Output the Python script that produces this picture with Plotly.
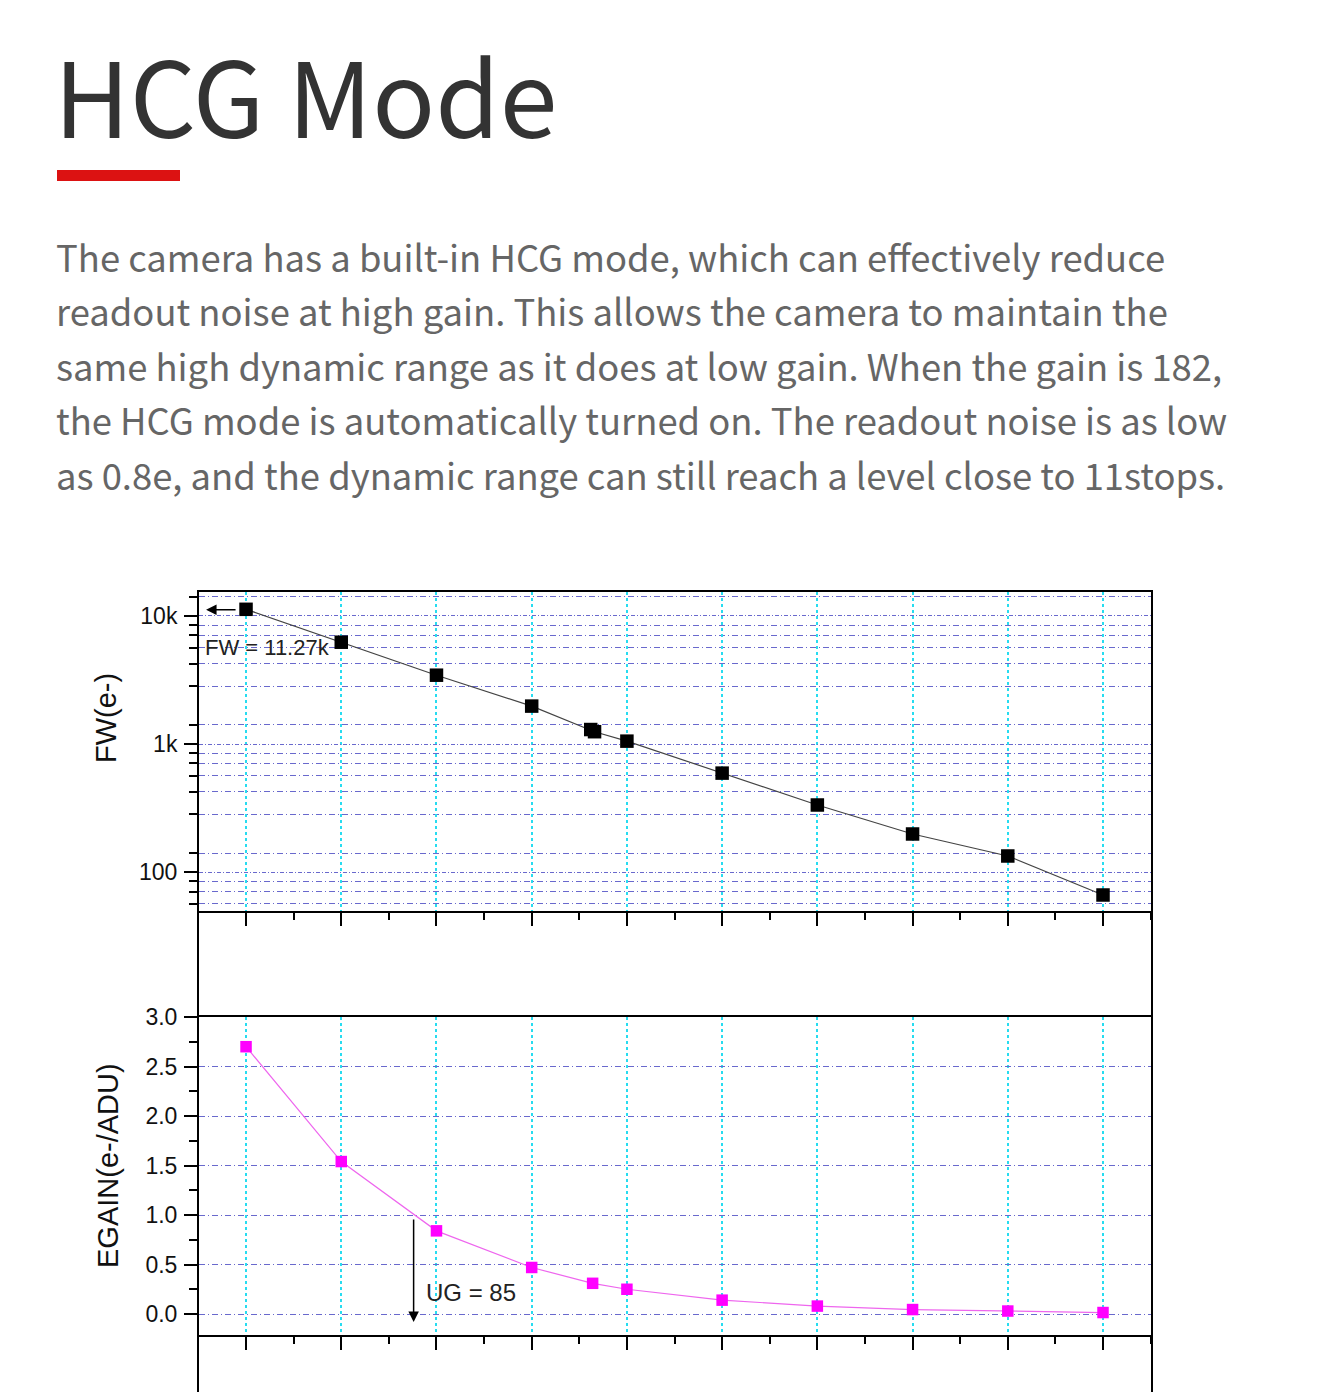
import math
import plotly.graph_objects as go

# ---------------- data ----------------
gain_fw = [0, 50, 100, 150, 181, 183, 200, 250, 300, 350, 400, 450]
fw_e = [11270, 6240, 3450, 1980, 1300, 1250, 1055, 594, 335, 199, 134, 66.5]

gain_eg = [0, 50, 100, 150, 182, 200, 250, 300, 350, 400, 450]
egain = [2.70, 1.54, 0.84, 0.47, 0.31, 0.25, 0.14, 0.08, 0.045, 0.03, 0.015]

x_major = [0, 50, 100, 150, 200, 250, 300, 350, 400, 450]
fw_tickvals = [100, 1000, 10000]
fw_ticktext = ["100", "1k", "10k"]
fw_minor = [56.6, 70.7, 84.9, 141, 283, 424, 566, 707, 849,
            1414, 2828, 4243, 5657, 7071, 8485, 14142]
eg_tickvals = [0.0, 0.5, 1.0, 1.5, 2.0, 2.5, 3.0]

heading = "HCG Mode"
paragraph = [
    "The camera has a built-in HCG mode, which can effectively reduce",
    "readout noise at high gain. This allows the camera to maintain the",
    "same high dynamic range as it does at low gain. When the gain is 182,",
    "the HCG mode is automatically turned on. The readout noise is as low",
    "as 0.8e, and the dynamic range can still reach a level close to 11stops.",
]
fw_label = "FW = 11.27k"
ug_label = "UG = 85"
ug_value = 88

# ---------------- layout helpers ----------------
OFF = 8                      # page body margin
W, H = 1338 - OFF, 1392 - OFF
def px(x):
    return (x - OFF) / W
def py(y):
    return 1 - (y - OFF) / H

X0, X1 = 199, 1151
TOP0, TOP1 = 592, 911
BOT0, BOT1 = 1017, 1335

axis_font = dict(family="Liberation Sans, Arial", size=23, color="#111")
grid_h = "rgb(105,105,205)"
grid_v = "rgb(40,220,240)"

fig = go.Figure()
fig.add_trace(go.Scatter(
    x=gain_fw, y=fw_e, mode="lines+markers", xaxis="x", yaxis="y",
    line=dict(color="#444", width=1.2),
    marker=dict(symbol="square", size=13.5, color="black"),
    showlegend=False, cliponaxis=False))
fig.add_trace(go.Scatter(
    x=gain_eg, y=egain, mode="lines+markers", xaxis="x2", yaxis="y2",
    line=dict(color="#ee66ee", width=1.2),
    marker=dict(symbol="square", size=11.5, color="#ff00ff"),
    showlegend=False, cliponaxis=False))

xcommon = dict(
    domain=[px(X0), px(X1)], range=[-24.7, 475.2],
    showline=True, linewidth=2, linecolor="black", mirror=True,
    ticks="outside", ticklen=13, tickwidth=2, tickcolor="black",
    tickmode="array", tickvals=x_major, showticklabels=False,
    showgrid=True, gridcolor=grid_v, gridwidth=1.5, griddash="3px,3px",
    zeroline=False, automargin=False,
    minor=dict(ticks="outside", ticklen=7, tickwidth=2, tickcolor="black",
               tickmode="linear", tick0=0, dtick=25, showgrid=False),
)

fig.update_layout(
    width=W, height=H,
    margin=dict(l=0, r=0, t=0, b=0, pad=0, autoexpand=False),
    showlegend=False,
    paper_bgcolor="white", plot_bgcolor="white",
    xaxis=dict(anchor="y", **xcommon),
    xaxis2=dict(anchor="y2", **xcommon),
    yaxis=dict(
        anchor="x", type="log", domain=[py(TOP1), py(TOP0)],
        range=[1.698, 4.187], automargin=False,
        showline=True, linewidth=2, linecolor="black", mirror=True,
        ticks="outside", ticklen=13, tickwidth=2, tickcolor="black",
        tickmode="array", tickvals=fw_tickvals, ticktext=fw_ticktext,
        tickfont=axis_font, ticklabelstandoff=2,
        showgrid=True, gridcolor=grid_h, gridwidth=1, griddash="4px,2px,1px,2px",
        zeroline=False,
        minor=dict(ticks="outside", ticklen=8, tickwidth=2, tickcolor="black",
                   tickmode="array", tickvals=fw_minor,
                   showgrid=True, gridcolor=grid_h, gridwidth=1,
                   griddash="6px,3px,1px,3px"),
    ),
    yaxis2=dict(
        anchor="x2", domain=[py(BOT1), py(BOT0)],
        range=[-0.212, 3.0], automargin=False,
        showline=True, linewidth=2, linecolor="black", mirror=True,
        ticks="outside", ticklen=13, tickwidth=2, tickcolor="black",
        tickmode="array", tickvals=eg_tickvals, tickformat=".1f",
        tickfont=axis_font, ticklabelstandoff=2,
        showgrid=True, gridcolor=grid_h, gridwidth=1, griddash="6px,3px,1px,3px",
        zeroline=False,
        minor=dict(ticks="outside", ticklen=8, tickwidth=2, tickcolor="black",
                   tickmode="linear", tick0=0.25, dtick=0.5, showgrid=False),
    ),
)

shapes = [
    dict(type="rect", xref="paper", yref="paper",
         x0=px(57), x1=px(180), y0=py(181), y1=py(170),
         fillcolor="#dc1212", line=dict(width=0)),
    dict(type="line", xref="paper", yref="paper",
         x0=px(X0 - 1), x1=px(X0 - 1), y0=py(TOP1), y1=py(BOT0),
         line=dict(color="black", width=2)),
    dict(type="line", xref="paper", yref="paper",
         x0=px(X1 + 1), x1=px(X1 + 1), y0=py(TOP1), y1=py(BOT0),
         line=dict(color="black", width=2)),
    dict(type="line", xref="paper", yref="paper",
         x0=px(X0 - 1), x1=px(X0 - 1), y0=py(BOT1), y1=0,
         line=dict(color="black", width=2)),
    dict(type="line", xref="paper", yref="paper",
         x0=px(X1 + 1), x1=px(X1 + 1), y0=py(BOT1), y1=0,
         line=dict(color="black", width=2)),
]
fig.update_layout(shapes=shapes)

ann = []
ann.append(dict(text=heading, xref="paper", yref="paper", x=px(52), y=py(93),
                xanchor="left", yanchor="middle", showarrow=False,
                font=dict(family="Noto Sans CJK SC", size=104, color="#333")))
line_y = [256, 310, 365, 419, 474]
for t, yy in zip(paragraph, line_y):
    ann.append(dict(text=t, xref="paper", yref="paper", x=px(54), y=py(yy),
                    xanchor="left", yanchor="middle", showarrow=False,
                    font=dict(family="Noto Sans CJK SC", size=36.4, color="#666")))
ann.append(dict(text="FW(e-)", xref="paper", yref="paper", x=px(106), y=py(718),
                textangle=-90, showarrow=False, xanchor="center", yanchor="middle",
                font=dict(family="Liberation Sans, Arial", size=29, color="#111")))
ann.append(dict(text="EGAIN(e-/ADU)", xref="paper", yref="paper", x=px(108), y=py(1166),
                textangle=-90, showarrow=False, xanchor="center", yanchor="middle",
                font=dict(family="Liberation Sans, Arial", size=29, color="#111")))
# FW arrow and label
ann.append(dict(text="", xref="x", yref="y", x=-21, y=math.log10(11200),
                ax=31, ay=0, showarrow=True, arrowhead=2, arrowsize=1.4,
                arrowwidth=1.5, arrowcolor="black"))
ann.append(dict(text=fw_label, xref="x", yref="y", x=-22.5, y=3.756,
                xanchor="left", yanchor="middle", showarrow=False,
                font=dict(family="Liberation Sans, Arial", size=22, color="#222")))
# UG arrow and label
ann.append(dict(text="", xref="x2", yref="y2", x=ug_value, y=-0.08,
                axref="x2", ayref="y2", ax=ug_value, ay=0.97,
                showarrow=True, arrowhead=2, arrowsize=1.4,
                arrowwidth=1.5, arrowcolor="black"))
ann.append(dict(text=ug_label, xref="x2", yref="y2", x=93.5, y=0.22,
                xanchor="left", yanchor="middle", showarrow=False,
                font=dict(family="Liberation Sans, Arial", size=24, color="#222")))
fig.update_layout(annotations=ann)

fig.write_html("out.html")
